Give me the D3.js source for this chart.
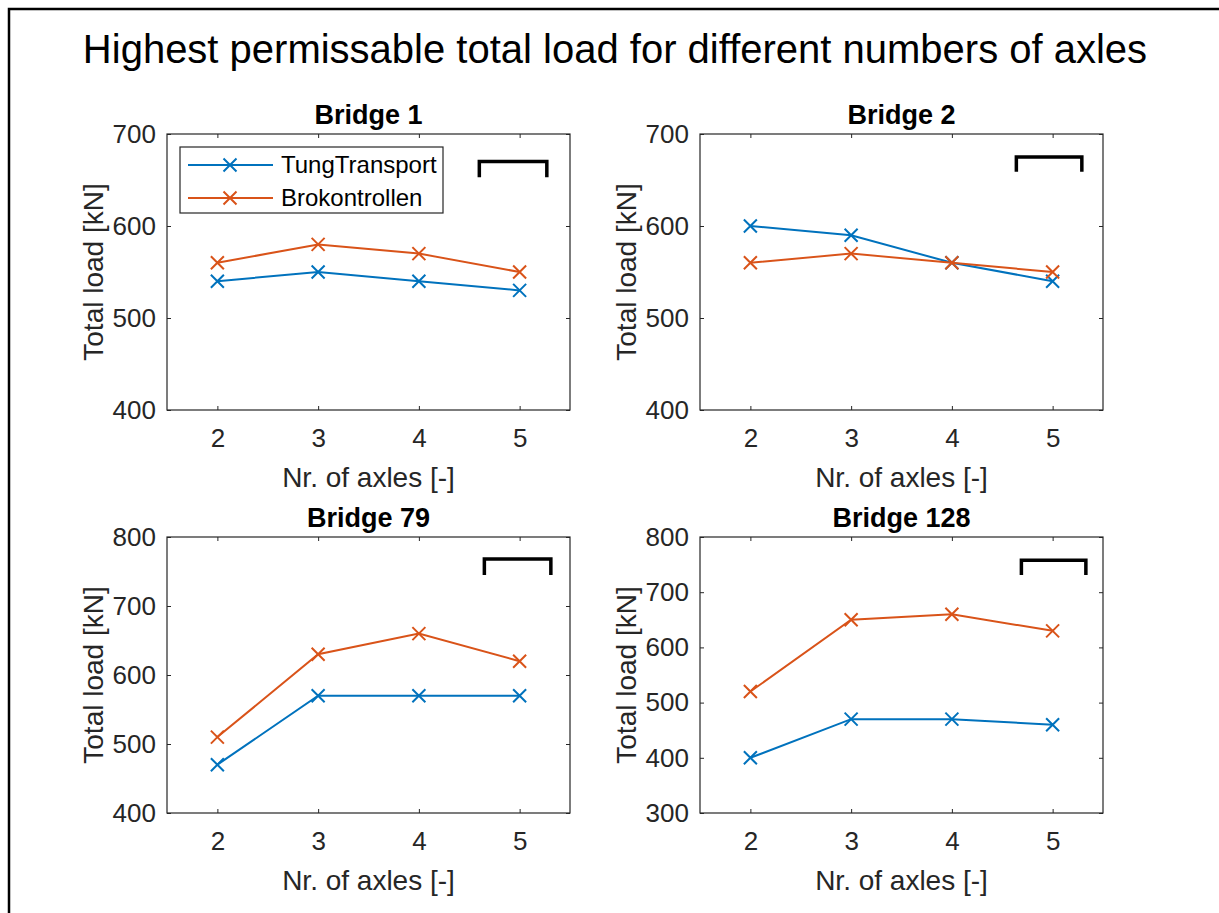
<!DOCTYPE html>
<html>
<head>
<meta charset="utf-8">
<script src="https://cdn.jsdelivr.net/npm/d3@7"></script>
<style>
  body { margin: 0; background: #fff; }
  svg { display: block; font-family: "Liberation Sans", Arial, sans-serif; }
</style>
</head>
<body>
<div id="chart"></div>
<script>
const width = 1219;
const height = 913;

// data
const axles = [2, 3, 4, 5];
const seriesNames = ["TungTransport", "Brokontrollen"];
const bridgeNames = ["Bridge 1", "Bridge 2", "Bridge 79", "Bridge 128"];
const tungTransport = [
  [540, 550, 540, 530],
  [600, 590, 560, 540],
  [470, 570, 570, 570],
  [400, 470, 470, 460]
];
const brokontrollen = [
  [560, 580, 570, 550],
  [560, 570, 560, 550],
  [510, 630, 660, 620],
  [520, 650, 660, 630]
];
const yDomains = [[400, 700], [400, 700], [400, 800], [300, 800]];
const yTicks = [
  [400, 500, 600, 700],
  [400, 500, 600, 700],
  [400, 500, 600, 700, 800],
  [300, 400, 500, 600, 700, 800]
];
// the black bracket drawn in the top right of each panel (x0, x1, yTop, yBottom)
const brackets = [
  [4.6, 5.27, 670, 653],
  [4.64, 5.29, 675, 659],
  [4.65, 5.31, 768, 745],
  [4.69, 5.33, 758, 731]
];

const colors = ["#0072BD", "#D95319"];
const axisColor = "#262626";

const svg = d3.select("#chart").append("svg")
  .attr("width", width)
  .attr("height", height);

// figure border (top and left only visible)
svg.append("path")
  .attr("d", "M9,913 V9 H1219")
  .attr("fill", "none")
  .attr("stroke", "#000")
  .attr("stroke-width", 2.5);

svg.append("text")
  .attr("x", 615)
  .attr("y", 63)
  .attr("text-anchor", "middle")
  .attr("font-size", 40)
  .attr("fill", "#000")
  .text("Highest permissable total load for different numbers of axles");

const panels = [
  { left: 167, top: 134 },
  { left: 700, top: 134 },
  { left: 167, top: 537 },
  { left: 700, top: 537 }
];
const pw = 403, ph = 276;

panels.forEach((p, i) => {
  const g = svg.append("g").attr("transform", `translate(${p.left},${p.top})`);
  const x = d3.scaleLinear().domain([1.5, 5.5]).range([0, pw]);
  const y = d3.scaleLinear().domain(yDomains[i]).range([ph, 0]);

  // axes with inward ticks, box on
  const tickStyle = sel => {
    sel.select(".domain").remove();
    sel.selectAll(".tick line").attr("stroke", axisColor);
    sel.selectAll(".tick text").attr("fill", axisColor).attr("font-size", 26)
      .attr("font-family", "Liberation Sans, Arial, sans-serif");
  };
  g.append("g").attr("transform", `translate(0,${ph})`)
    .call(d3.axisBottom(x).tickValues(axles).tickFormat(d3.format("d"))
      .tickSizeInner(-4).tickSizeOuter(0).tickPadding(19))
    .call(tickStyle);
  g.append("g")
    .call(d3.axisTop(x).tickValues(axles).tickSizeInner(-4).tickSizeOuter(0).tickFormat(""))
    .call(tickStyle);
  g.append("g")
    .call(d3.axisLeft(y).tickValues(yTicks[i]).tickFormat(d3.format("d"))
      .tickSizeInner(-4).tickSizeOuter(0).tickPadding(11))
    .call(tickStyle);
  g.append("g").attr("transform", `translate(${pw},0)`)
    .call(d3.axisRight(y).tickValues(yTicks[i]).tickSizeInner(-4).tickSizeOuter(0).tickFormat(""))
    .call(tickStyle);
  g.append("rect")
    .attr("width", pw).attr("height", ph)
    .attr("fill", "none").attr("stroke", axisColor).attr("stroke-width", 1.2);

  // titles and labels
  g.append("text")
    .attr("x", pw / 2).attr("y", -10)
    .attr("text-anchor", "middle")
    .attr("font-size", 27).attr("font-weight", "bold").attr("fill", "#000")
    .text(bridgeNames[i]);
  g.append("text")
    .attr("x", pw / 2).attr("y", ph + 77)
    .attr("text-anchor", "middle")
    .attr("font-size", 28).attr("fill", axisColor)
    .text("Nr. of axles [-]");
  g.append("text")
    .attr("transform", `translate(-64,${ph / 2}) rotate(-90)`)
    .attr("text-anchor", "middle")
    .attr("font-size", 28).attr("fill", axisColor)
    .text("Total load [kN]");

  // bracket
  const b = brackets[i];
  g.append("path")
    .attr("d", d3.line()([[x(b[0]), y(b[3])], [x(b[0]), y(b[2])], [x(b[1]), y(b[2])], [x(b[1]), y(b[3])]]))
    .attr("fill", "none").attr("stroke", "#000").attr("stroke-width", 3.5);

  // series
  [tungTransport[i], brokontrollen[i]].forEach((vals, s) => {
    const pts = axles.map((a, k) => [x(a), y(vals[k])]);
    g.append("path")
      .attr("d", d3.line()(pts))
      .attr("fill", "none").attr("stroke", colors[s]).attr("stroke-width", 2);
    g.selectAll(null).data(pts).join("path")
      .attr("transform", d => `translate(${d[0]},${d[1]})`)
      .attr("d", "M-6.5,-6.5L6.5,6.5M-6.5,6.5L6.5,-6.5")
      .attr("stroke", colors[s]).attr("stroke-width", 2);
  });

  // legend in first panel
  if (i === 0) {
    const lg = g.append("g").attr("transform", "translate(13,13)");
    lg.append("rect")
      .attr("width", 263).attr("height", 66)
      .attr("fill", "#fff").attr("stroke", axisColor).attr("stroke-width", 1.2);
    seriesNames.forEach((name, s) => {
      const ly = 18 + s * 33;
      lg.append("line")
        .attr("x1", 8).attr("x2", 93).attr("y1", ly).attr("y2", ly)
        .attr("stroke", colors[s]).attr("stroke-width", 2);
      lg.append("path")
        .attr("transform", `translate(50,${ly})`)
        .attr("d", "M-6.5,-6.5L6.5,6.5M-6.5,6.5L6.5,-6.5")
        .attr("stroke", colors[s]).attr("stroke-width", 2);
      lg.append("text")
        .attr("x", 101).attr("y", ly + 8)
        .attr("font-size", 24).attr("fill", "#000")
        .text(name);
    });
  }
});
</script>
</body>
</html>
